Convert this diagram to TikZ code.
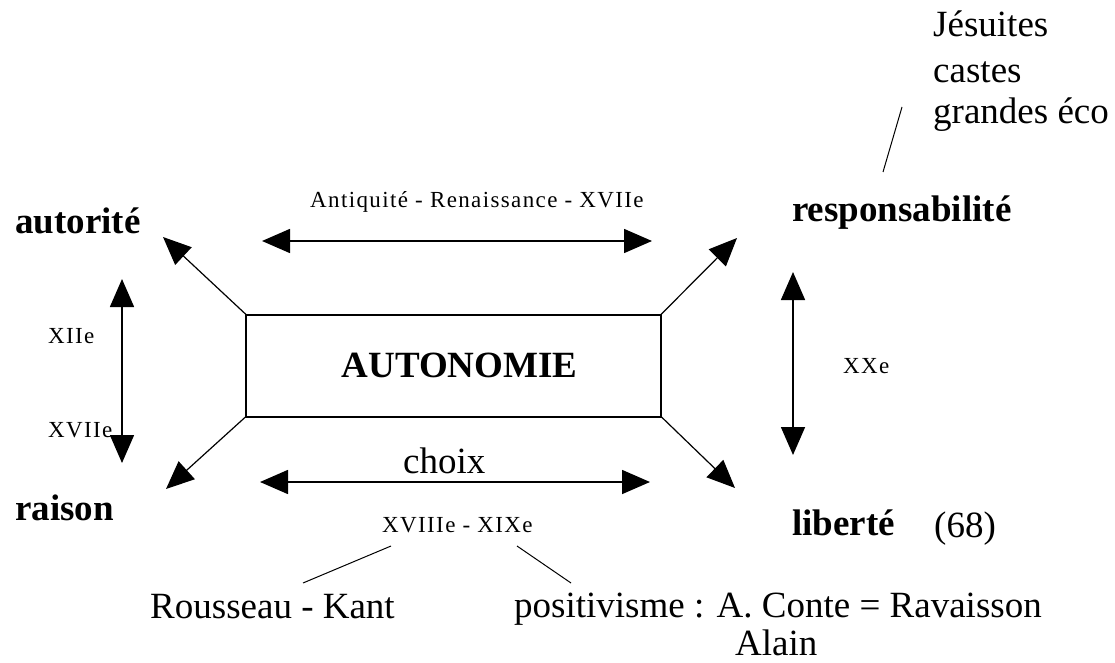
\documentclass[tikz,border=0pt]{standalone}
\usepackage{fontspec}
\setmainfont{Liberation Serif}
\newfontfamily\periodfont[LetterSpace=6]{Liberation Serif}
\usetikzlibrary{arrows.meta}
\tikzstyle{keyword} = [anchor=base west, inner sep=0pt, font=\fontsize{37}{42}\selectfont\bfseries]
\tikzstyle{plain} = [anchor=base west, inner sep=0pt, font=\fontsize{37}{42}\selectfont]
\tikzstyle{period} = [anchor=base west, inner sep=0pt, font=\periodfont\fontsize{23}{26}\selectfont]
\tikzstyle{centre} = [rectangle, draw, line width=2pt, minimum width=415pt, minimum height=102pt, outer sep=0pt, font=\fontsize{37}{42}\selectfont\bfseries]
\tikzstyle{arrow} = [-{Triangle[length=28pt,width=24pt]}, line width=1.2pt]
\tikzstyle{twoway} = [{Triangle[length=28pt,width=24pt]}-{Triangle[length=28pt,width=24pt]}, line width=1.6pt]
\tikzstyle{link} = [line width=1pt]

\begin{document}
\begin{tikzpicture}[x=1pt, y=-1pt]
    \useasboundingbox (0,0) rectangle (1115,663);

        % nodes
        \node (autonomie) [centre] at (453.5,365.5) {\hspace{12pt}AUTONOMIE};
        \node (autorite) [keyword] at (15,233) {autorité};
        \node (responsabilite) [keyword] at (792,221) {responsabilité};
        \node (raison) [keyword] at (15,520) {raison};
        \node (liberte) [keyword] at (792,535) {liberté};
        \node (annee) [plain] at (934,537) {(68)};
        \node (jesuites) [plain] at (933,37) {Jésuites};
        \node (castes) [plain] at (933,83) {castes};
        \node (ecoles) [plain] at (933,124) {grandes éco};
        \node (choix) [plain] at (403,473) {choix};
        \node (rousseau) [plain] at (150,618) {Rousseau - Kant};
        \node (positivisme) [plain] at (514,617) {positivisme : A. Conte = Ravaisson};
        \node (alain) [plain] at (735,655) {Alain};
        \node (antiquite) [period] at (310,207) {Antiquité - Renaissance - XVIIe};
        \node (xviii) [period] at (382,532) {XVIIIe - XIXe};
        \node (xii) [period] at (48,343) {XIIe};
        \node (xvii) [period] at (48,437) {XVIIe};
        \node (xx) [period] at (843,373) {XXe};

        % arrow ends
        \coordinate (tip_aut) at (163,237);
        \coordinate (tip_rai) at (166,489);
        \coordinate (tip_res) at (737,238);
        \coordinate (tip_lib) at (735,488);
        \coordinate (top_l) at (262,241);
        \coordinate (top_r) at (652,241);
        \coordinate (bot_l) at (260,482);
        \coordinate (bot_r) at (650,482);
        \coordinate (left_t) at (122,279);
        \coordinate (left_b) at (122,463);
        \coordinate (right_t) at (793,272);
        \coordinate (right_b) at (793,455);
        \coordinate (slash_t) at (902,107);
        \coordinate (slash_b) at (883,172);
        \coordinate (xviii_l) at (391,546);
        \coordinate (rousseau_t) at (303,583);
        \coordinate (xviii_r) at (517,546);
        \coordinate (positivisme_t) at (571,583);

        % edges
        \draw [arrow] (autonomie.north west) -- (tip_aut);
        \draw [arrow] (autonomie.south west) -- (tip_rai);
        \draw [arrow] (autonomie.north east) -- (tip_res);
        \draw [arrow] (autonomie.south east) -- (tip_lib);
        \draw [twoway] (top_l) -- (top_r);
        \draw [twoway] (bot_l) -- (bot_r);
        \draw [twoway] (left_t) -- (left_b);
        \draw [twoway] (right_t) -- (right_b);
        \draw [link] (slash_b) -- (slash_t);
        \draw [link] (xviii_l) -- (rousseau_t);
        \draw [link] (xviii_r) -- (positivisme_t);

\end{tikzpicture}
\end{document}
